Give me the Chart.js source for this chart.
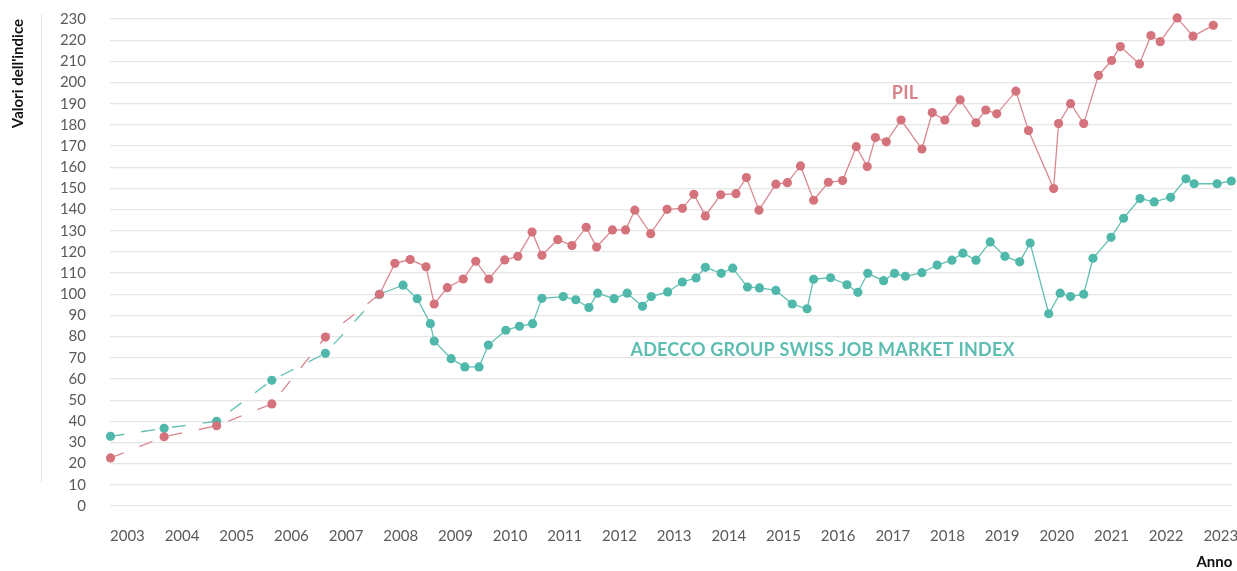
<!DOCTYPE html>
<html lang="it">
<head>
<meta charset="utf-8">
<script src="https://cdn.jsdelivr.net/npm/chart.js@4/dist/chart.umd.min.js"></script>
<style>
  html, body { margin: 0; padding: 0; background: #fff; overflow: hidden; }
  #contenitore { width: 1237px; height: 571px; position: relative; }
</style>
</head>
<body>
<div id="contenitore"><canvas id="grafico"></canvas></div>
<script>
// Anni (decimali) e valori
const anniPil = [2003.01, 2003.99, 2004.95, 2005.96, 2006.94, 2007.93,
  2008.21, 2008.49, 2008.78, 2008.93, 2009.17, 2009.46, 2009.69, 2009.93,
  2010.22, 2010.46, 2010.72, 2010.90, 2011.19, 2011.45, 2011.71, 2011.90,
  2012.19, 2012.43, 2012.60, 2012.89, 2013.19, 2013.47, 2013.68, 2013.89,
  2014.17, 2014.45, 2014.64, 2014.87, 2015.18, 2015.39, 2015.63, 2015.87,
  2016.14, 2016.40, 2016.65, 2016.85, 2017.00, 2017.20, 2017.47, 2017.85,
  2018.04, 2018.27, 2018.55, 2018.84, 2019.02, 2019.22, 2019.57, 2019.80,
  2020.26, 2020.35, 2020.57, 2020.81, 2021.08, 2021.32, 2021.48, 2021.83,
  2022.04, 2022.21, 2022.52, 2022.81, 2023.18];
const valoriPil = [22.7, 32.7, 37.9, 48.2, 79.8, 100,
  114.6, 116.4, 113, 95.4, 103.1, 107.2, 115.6, 107.2,
  116.2, 117.9, 129.4, 118.4, 125.8, 123, 131.6, 122.3,
  130.4, 130.4, 139.7, 128.6, 140.1, 140.6, 147.2, 137,
  147, 147.5, 155.1, 139.7, 152, 152.7, 160.6, 144.4,
  152.9, 153.7, 169.7, 160.3, 174, 172, 182.3, 168.6,
  185.8, 182.3, 191.8, 181, 187, 185.2, 195.9, 177.3,
  149.9, 180.6, 190, 180.6, 203.4, 210.4, 217, 208.8,
  222.2, 219.3, 230.5, 221.9, 227];

const anniAdecco = [2003.01, 2003.99, 2004.95, 2005.96, 2006.94, 2007.93,
  2008.36, 2008.62, 2008.86, 2008.93, 2009.24, 2009.49, 2009.75, 2009.92,
  2010.24, 2010.49, 2010.73, 2010.90, 2011.29, 2011.52, 2011.76, 2011.92,
  2012.22, 2012.46, 2012.74, 2012.90, 2013.20, 2013.47, 2013.72, 2013.89,
  2014.18, 2014.39, 2014.66, 2014.88, 2015.18, 2015.48, 2015.75, 2015.87,
  2016.18, 2016.48, 2016.68, 2016.86, 2017.15, 2017.35, 2017.55, 2017.85,
  2018.13, 2018.40, 2018.60, 2018.84, 2019.10, 2019.37, 2019.64, 2019.83,
  2020.17, 2020.38, 2020.57, 2020.81, 2020.98, 2021.31, 2021.54, 2021.84,
  2022.10, 2022.40, 2022.68, 2022.83, 2023.25, 2023.51];
const valoriAdecco = [32.9, 36.7, 40, 59.4, 72.1, 100,
  104.3, 97.9, 86.1, 77.9, 69.6, 65.7, 65.7, 76,
  83, 84.9, 86.1, 98.1, 98.9, 97.4, 93.7, 100.5,
  97.9, 100.5, 94.3, 98.9, 101.1, 105.8, 107.7, 112.7,
  109.9, 112.3, 103.4, 103, 101.8, 95.4, 93.1, 107.1,
  107.8, 104.5, 100.9, 109.9, 106.4, 109.9, 108.5, 110.2,
  113.8, 116.1, 119.4, 116.1, 124.7, 117.9, 115.3, 124.2,
  90.8, 100.5, 98.9, 100, 117, 126.9, 135.9, 145.2,
  143.6, 145.8, 154.5, 152.2, 152.2, 153.5];

// primi punti annuali -> linea tratteggiata
const puntiAnnuali = 5;

const colorePil = '#d5737d';
const coloreAdecco = '#4fb8aa';

function punti(anni, valori) {
  let out = [];
  for (let i = 0; i < anni.length; i++) {
    out.push({ x: anni[i], y: valori[i] });
  }
  return out;
}

function tratteggio(ctx) {
  return ctx.p0DataIndex < puntiAnnuali ? [14, 17] : undefined;
}

// testi dentro al grafico e linea verticale a sinistra
const etichette = {
  id: 'etichette',
  afterDatasetsDraw(chart) {
    const ctx = chart.ctx;
    const x = chart.scales.x;
    const y = chart.scales.y;
    ctx.save();
    ctx.textBaseline = 'middle';
    ctx.textAlign = 'left';
    ctx.font = 'bold 18px Lato';
    ctx.letterSpacing = '0.2px';
    ctx.fillStyle = '#d8848c';
    ctx.fillText('PIL', x.getPixelForValue(2017.3), y.getPixelForValue(195));
    ctx.fillStyle = '#5dbdb1';
    ctx.fillText('ADECCO GROUP SWISS JOB MARKET INDEX', x.getPixelForValue(2012.52), y.getPixelForValue(73.7));

    ctx.strokeStyle = '#e2e2e2';
    ctx.lineWidth = 1;
    ctx.beginPath();
    ctx.moveTo(41.5, y.getPixelForValue(232));
    ctx.lineTo(41.5, y.getPixelForValue(11));
    ctx.stroke();
    ctx.restore();
  }
};

const config = {
  type: 'line',
  data: {
    datasets: [{
      label: 'PIL',
      data: punti(anniPil, valoriPil),
      borderColor: '#d98891',
      backgroundColor: colorePil,
      pointBackgroundColor: colorePil,
      pointBorderWidth: 0,
      pointRadius: 4.6,
      borderWidth: 1.3,
      tension: 0,
      clip: 8,
      segment: { borderDash: tratteggio }
    }, {
      label: 'Adecco Group Swiss Job Market Index',
      data: punti(anniAdecco, valoriAdecco),
      borderColor: '#62bfb2',
      backgroundColor: coloreAdecco,
      pointBackgroundColor: coloreAdecco,
      pointBorderWidth: 0,
      pointRadius: 4.6,
      borderWidth: 1.3,
      tension: 0,
      clip: 8,
      segment: { borderDash: tratteggio }
    }]
  },
  options: {
    responsive: true,
    maintainAspectRatio: false,
    animation: false,
    layout: { padding: { left: 0, right: 0, top: 19, bottom: 0 } },
    plugins: {
      legend: { display: false },
      tooltip: { enabled: false }
    },
    scales: {
      x: {
        type: 'linear',
        min: 2003,
        max: 2023.53,
        grid: { display: false, drawTicks: false },
        border: { display: false },
        ticks: {
          stepSize: 1,
          includeBounds: false,
          align: 'start',
          padding: 21,
          maxRotation: 0,
          autoSkip: false,
          color: '#5a5a5a',
          font: { family: 'Lato', size: 15 },
          callback: function (v) { return String(v); }
        },
        title: {
          display: true,
          text: 'Anno',
          align: 'end',
          color: '#111',
          font: { family: 'Lato', size: 15, weight: 'bold' },
          padding: { top: 0, bottom: 0 }
        },
        afterFit: function (scale) {
          scale.height = 65;
          scale.paddingRight = 0;
          scale.paddingLeft = 0;
        }
      },
      y: {
        min: 0,
        max: 230,
        grid: { color: '#e6e6e6', lineWidth: 1.2, drawTicks: false },
        border: { display: false },
        ticks: {
          stepSize: 10,
          padding: 24,
          color: '#5a5a5a',
          font: { family: 'Lato', size: 15 }
        },
        title: {
          display: true,
          text: "Valori dell'indice",
          align: 'end',
          color: '#111',
          font: { family: 'Lato', size: 15, weight: 'bold' },
          padding: { top: 9, bottom: 0 }
        },
        afterFit: function (scale) {
          scale.width = 110;
          scale.paddingTop = 0;
          scale.paddingBottom = 0;
        }
      }
    }
  },
  plugins: [etichette]
};

let grafico = new Chart(document.getElementById('grafico'), config);
</script>
</body>
</html>
